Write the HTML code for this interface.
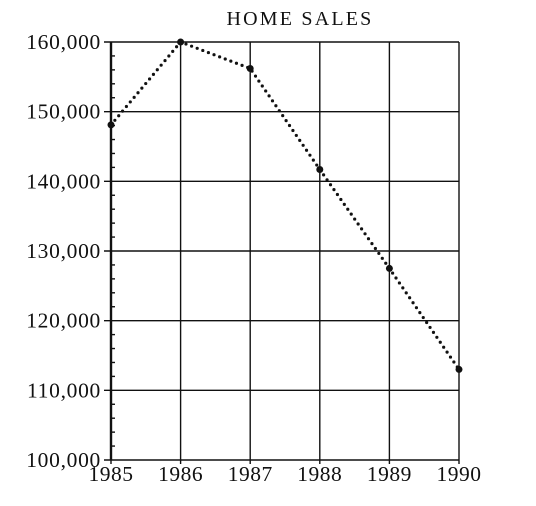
<!DOCTYPE html>
<html><head><meta charset="utf-8"><style>
body{margin:0;background:#fff}
svg text{font-family:"Liberation Serif",serif;fill:#111}
</style></head><body>
<svg id="c" width="536" height="501" xmlns="http://www.w3.org/2000/svg">
<text x="300" y="25" text-anchor="middle" font-size="20" letter-spacing="2.2">HOME SALES</text>
<g id="g"></g>
</svg>
<script>
const years = [1985, 1986, 1987, 1988, 1989, 1990];
const sales = [148100, 160000, 156200, 141700, 127500, 113000];
const yTicks = [100000, 110000, 120000, 130000, 140000, 150000, 160000];
const yLabels = ["100,000","110,000","120,000","130,000","140,000","150,000","160,000"];
const L=111,R=459,T=42,B=460;
const xs=y=>L+(y-1985)/5*(R-L);
const ys=v=>B-(v-100000)/60000*(B-T);
const g=document.getElementById('g');
const NS='http://www.w3.org/2000/svg';
function mk(t,a){const e=document.createElementNS(NS,t);for(const k in a)e.setAttribute(k,a[k]);g.appendChild(e);return e;}
yTicks.forEach((v,i)=>{
  const l=mk('line',{x1:L-7,x2:R,y1:ys(v),y2:ys(v),stroke:'#111','stroke-width':1.4});
  
  
  const t=mk('text',{x:L-10,y:ys(v)+7,'text-anchor':'end','font-size':21.5,'letter-spacing':0.7});
  t.textContent=yLabels[i];
  
  
});
for(let v=100000;v<160000;v+=2000){ if(v%10000===0)continue;
  const m=mk('line',{x1:L,x2:L+4,y1:ys(v),y2:ys(v),stroke:'#111','stroke-width':1.4});
  
  
}
years.forEach(y=>{
  const l=mk('line',{x1:xs(y),x2:xs(y),y1:T,y2:B+4,stroke:'#111','stroke-width':1.4});
  
  
  const t=mk('text',{x:xs(y),y:B+21,'text-anchor':'middle','font-size':21.5,'letter-spacing':0.5});
  t.textContent=y;
  
  
});
const ax=mk('line',{x1:L,x2:L,y1:T,y2:B,stroke:'#111','stroke-width':2.4});


const p=mk('polyline',{points:years.map((y,i)=>xs(y)+','+ys(sales[i])).join(' '),fill:'none',stroke:'#111','stroke-width':3.2,'stroke-dasharray':'0 6','stroke-linecap':'round'});


years.forEach((y,i)=>{
  const c=mk('circle',{cx:xs(y),cy:ys(sales[i]),r:3.5,fill:'#111'});
  
  
});
</script>
</body></html>
